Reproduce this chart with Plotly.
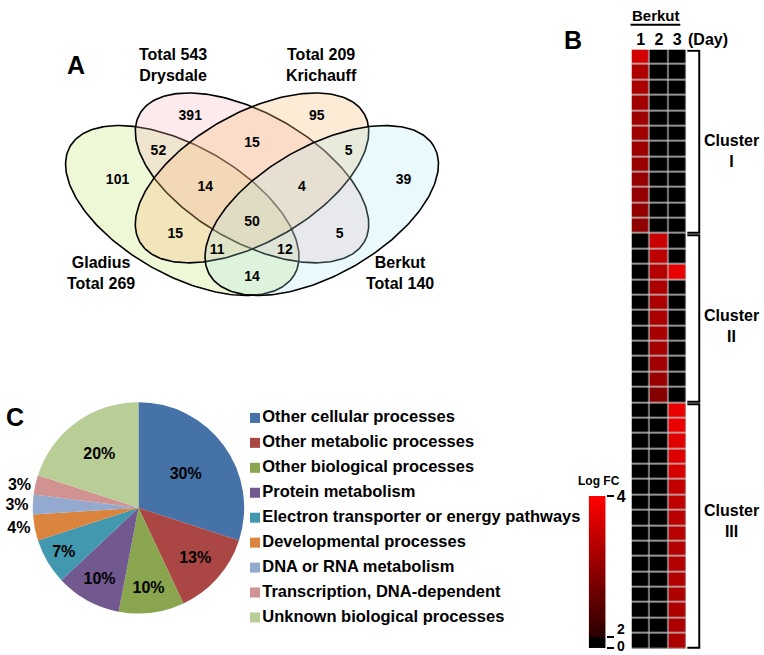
import numpy as np
import plotly.graph_objects as go

FONT = "Liberation Sans, Arial, sans-serif"
W, H = 764, 655

# ---------------- Panel A : Venn diagram data ----------------
venn_sets = ["Gladius", "Drysdale", "Krichauff", "Berkut"]
venn_totals = [269, 543, 209, 140]
venn_region_counts = [391, 95, 101, 39, 15, 52, 5, 14, 4, 50, 15, 5, 11, 12, 14]
# (D, K, G, B, D∩K, G∩D, K∩B, G∩D∩K, D∩K∩B, all, G∩K, D∩B, G∩K∩B, G∩D∩B, G∩B)

# ---------------- Panel B : heat map data (Log FC) ----------------
days = ["1", "2", "3"]
cluster_names = ["I", "II", "III"]
cluster_sizes = [12, 11, 16]
day1 = [3.58, 3.25, 3.2, 3.12, 3.1, 3.1, 3.08, 3.05, 3.02, 3.0, 2.98, 2.95,
        0, 0, 0, 0, 0, 0, 0, 0, 0, 0, 0,
        0, 0, 0, 0, 0, 0, 0, 0, 0, 0, 0, 0, 0, 0, 0, 0]
day2 = [0, 0, 0, 0, 0, 0, 0, 0, 0, 0, 0, 0,
        3.48, 3.39, 3.3, 3.22, 3.2, 3.2, 3.18, 3.15, 3.12, 3.06, 2.87,
        0, 0, 0, 0, 0, 0, 0, 0, 0, 0, 0, 0, 0, 0, 0, 0]
day3 = [0, 0, 0, 0, 0, 0, 0, 0, 0, 0, 0, 0,
        0, 0, 3.77, 0, 0, 0, 0, 0, 0, 0, 0,
        3.81, 3.8, 3.72, 3.67, 3.62, 3.44, 3.4, 3.35, 3.32, 3.3, 3.28, 3.28,
        3.25, 3.25, 3.22, 3.22]
cb_ticks = [0, 2, 4]

# ---------------- Panel C : pie data ----------------
pie_labels = ["Other cellular processes", "Other metabolic processes",
              "Other biological processes", "Protein metabolism",
              "Electron transporter or energy pathways", "Developmental processes",
              "DNA or RNA metabolism", "Transcription, DNA-dependent",
              "Unknown biological processes"]
pie_values = [30, 13, 10, 10, 7, 4, 3, 3, 20]

# ---------------- styling / geometry (pixels) ----------------
pie_colors = ["#4572A7", "#AA4643", "#89A54E", "#71588F", "#4198AF",
              "#DB843D", "#93A9CF", "#D19392", "#B9CD96"]
ell_geom = {"Gladius": (180, 205, 130, 65, 30),
            "Drysdale": (250, 172, 130, 65, 30),
            "Krichauff": (250, 172, 130, 65, -30),
            "Berkut": (320, 205, 130, 65, -30)}
ell_fill = {"Gladius": "rgba(200,230,120,0.30)",
            "Drysdale": "rgba(245,170,185,0.25)",
            "Krichauff": "rgba(250,190,120,0.30)",
            "Berkut": "rgba(170,230,240,0.25)"}
venn_label_xy = [(188, 110), (315, 110), (115, 175), (402, 175), (250, 137),
                 (156, 145), (347, 145), (203, 182), (300, 182), (250, 217),
                 (173, 229), (338, 229), (215, 245), (283, 245), (250, 273)]
set_label_xy = {"Gladius": (98, 268), "Drysdale": (171, 58),
                "Krichauff": (320, 58), "Berkut": (399, 268)}
cluster_label_nudge = [0.62, 0.5, -0.35]   # rows

fig = go.Figure()

# ---- Venn ellipses ----
t = np.linspace(0, 2 * np.pi, 240)
for name in ["Gladius", "Drysdale", "Krichauff", "Berkut"]:
    cx, cy, a, b, ang = ell_geom[name]
    th = np.radians(ang)
    ex = cx + a * np.cos(t) * np.cos(th) - b * np.sin(t) * np.sin(th)
    ey = cy + a * np.cos(t) * np.sin(th) + b * np.sin(t) * np.cos(th)
    fig.add_trace(go.Scatter(x=ex, y=ey, mode="lines", fill="toself",
                             fillcolor=ell_fill[name],
                             line=dict(color="black", width=1.6),
                             hoverinfo="skip", showlegend=False,
                             xaxis="x", yaxis="y"))

fig.add_trace(go.Scatter(x=[p[0] for p in venn_label_xy], y=[p[1] for p in venn_label_xy],
                         mode="text", text=[f"<b>{v}</b>" for v in venn_region_counts],
                         textfont=dict(family=FONT, size=14, color="black"),
                         hoverinfo="skip", showlegend=False, xaxis="x", yaxis="y"))

annotations = []
for name, tot in zip(venn_sets, venn_totals):
    x, y = set_label_xy[name]
    if name in ("Drysdale", "Krichauff"):
        txt = f"<b>Total {tot}<br>{name}</b>"
    else:
        txt = f"<b>{name}<br>Total {tot}</b>"
    annotations.append(dict(x=x, y=y, xref="x", yref="y", text=txt, showarrow=False,
                            xanchor="center", yanchor="middle",
                            font=dict(family=FONT, size=16, color="black"),
                            align="center"))

# ---- Pie legend (manual) ----
leg_y = [415 + 25.25 * i for i in range(len(pie_labels))]
fig.add_trace(go.Scatter(x=[253] * len(pie_labels), y=leg_y, mode="markers+text",
                         marker=dict(symbol="square", size=10, color=pie_colors),
                         text=[f"<b>{l}</b>" for l in pie_labels],
                         textposition="middle right",
                         textfont=dict(family=FONT, size=16.5, color="black"),
                         hoverinfo="skip", showlegend=False, xaxis="x", yaxis="y"))

# ---- Pie ----
fig.add_trace(go.Pie(values=pie_values, labels=pie_labels, sort=False,
                     direction="clockwise", rotation=0,
                     marker=dict(colors=pie_colors, line=dict(width=0)),
                     texttemplate="<b>%{percent:.0%}</b>",
                     textposition=["inside"] * 5 + ["outside"] * 3 + ["inside"],
                     insidetextorientation="horizontal",
                     textfont=dict(family=FONT, size=16, color="black"),
                     domain=dict(x=[29 / W, 243 / W], y=[1 - 613 / H, 1 - 399 / H]),
                     showlegend=False, hoverinfo="skip"))

# ---- Heat map ----
n_rows = len(day1)
z = [[d1, d2, d3] for d1, d2, d3 in zip(day1, day2, day3)]
cscale = [[0, "#000000"], [0.5, "#000000"], [0.5, "#2a0000"], [1, "#ff0000"]]
fig.add_trace(go.Heatmap(z=z, x=[1, 2, 3], y=list(range(n_rows)), zmin=0, zmax=4,
                         colorscale=cscale, showscale=False, xgap=1.2, ygap=1.5,
                         hoverinfo="skip", xaxis="x2", yaxis="y2"))

# ---- Colour bar (custom, non-linear) ----
black_frac = 11 / 154
cb_z = [[1.0]] + [[v] for v in np.linspace(2, 4, 80)]
cb_y = [0, black_frac] + list(np.linspace(black_frac, 1, 81)[1:])
fig.add_trace(go.Heatmap(z=cb_z, x=[0], y=cb_y, zmin=0, zmax=4, colorscale=cscale,
                         showscale=False, hoverinfo="skip", xaxis="x3", yaxis="y3"))
cb_tick_pos = [0, black_frac, 1]
# lower two colour-bar labels, stacked so they stay inside the page and apart
annotations.append(dict(x=620 / W, y=0, xref="paper", yref="paper",
                        xanchor="center", yanchor="bottom", borderpad=0,
                        text=f"<b>{cb_ticks[0]}</b>", showarrow=False,
                        font=dict(family=FONT, size=14, color="black")))
annotations.append(dict(x=620 / W, y=cb_tick_pos[1], xref="paper", yref="y3", yshift=-1,
                        xanchor="center", yanchor="bottom", borderpad=0,
                        text=f"<b>{cb_ticks[1]}</b>", showarrow=False,
                        font=dict(family=FONT, size=14, color="black")))

shapes = []
# gray grid behind heatmap
shapes.append(dict(type="rect", xref="x2", yref="y2", x0=0.5, x1=3.5, y0=-0.5,
                   y1=n_rows - 0.5, fillcolor="#c4c4c4", line=dict(width=0), layer="below"))
# cluster brackets
start = 0
bx0, bx1 = 687 / W, 699 / W
for cname, size, nudge in zip(cluster_names, cluster_sizes, cluster_label_nudge):
    top = start - 0.5 + 0.08
    bot = start + size - 0.5 - 0.08
    shapes.append(dict(type="path", xref="paper", yref="y2",
                       path=f"M {bx0},{top} L {bx1},{top} L {bx1},{bot} L {bx0},{bot}",
                       line=dict(color="black", width=2)))
    annotations.append(dict(x=731 / W, y=start + (size - 1) / 2 + nudge, xref="paper", yref="y2",
                            xanchor="center", yanchor="middle",
                            text=f"<b>Cluster<br>{cname}</b>", showarrow=False,
                            font=dict(family=FONT, size=16, color="black"), align="center"))
    start += size
# Berkut underline
shapes.append(dict(type="line", xref="x", yref="y", x0=630, x1=680, y0=17, y1=17,
                   line=dict(color="black", width=2)))

def txt(x, y, s, size):
    annotations.append(dict(x=x, y=y, xref="x", yref="y", text=f"<b>{s}</b>",
                            xanchor="center", yanchor="middle",
                            showarrow=False, font=dict(family=FONT, size=size, color="black")))

txt(73, 58, "A", 25)
txt(572, 32, "B", 25)
txt(12, 414, "C", 25)
txt(656, 8, "Berkut", 15)
txt(708, 32, "(Day)", 16)
txt(598, 479, "Log FC", 12)

fig.update_layout(
    width=W, height=H, margin=dict(l=0, r=0, t=0, b=0),
    paper_bgcolor="white", plot_bgcolor="rgba(0,0,0,0)",
    showlegend=False, hovermode=False,
    font=dict(family=FONT, color="black"),
    xaxis=dict(domain=[0, 1], range=[0, W], visible=False, fixedrange=True),
    yaxis=dict(domain=[0, 1], range=[H, 0], visible=False, fixedrange=True),
    xaxis2=dict(domain=[631 / W, 686 / W], range=[0.5, 3.5], anchor="y2", side="top",
                tickvals=[1, 2, 3], ticktext=[f"<b>{d}</b>" for d in days],
                tickfont=dict(family=FONT, size=16, color="black"),
                showgrid=False, zeroline=False, showline=False, ticks="", fixedrange=True),
    yaxis2=dict(domain=[1 - 649 / H, 1 - 42 / H], range=[n_rows - 0.5, -0.5], anchor="x2",
                visible=False, fixedrange=True),
    xaxis3=dict(domain=[588 / W, 605 / W], range=[-0.5, 0.5], anchor="y3",
                visible=False, fixedrange=True),
    yaxis3=dict(domain=[1 - 648 / H, 1 - 494 / H], range=[0, 1], anchor="x3", side="right",
                tickvals=cb_tick_pos, ticktext=["", "", f"<b>{cb_ticks[2]}</b>"],
                tickfont=dict(family=FONT, size=16, color="black"),
                ticklabeloverflow="allow",
                ticks="outside", ticklen=7, tickwidth=2, tickcolor="black",
                showgrid=False, zeroline=False, showline=False, fixedrange=True),
    shapes=shapes, annotations=annotations,
)

fig.write_html("out.html", config={"displayModeBar": False},
               post_script="document.body.style.margin='0';document.body.style.overflow='hidden';")
